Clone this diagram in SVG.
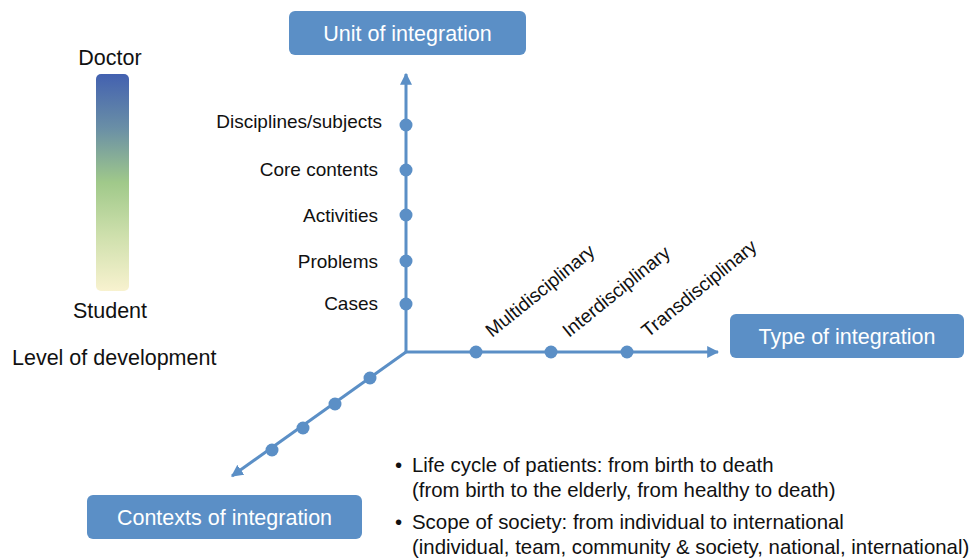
<svg xmlns="http://www.w3.org/2000/svg" width="975" height="559" viewBox="0 0 975 559">
  <style>
    text { font-family: "Liberation Sans", Arial, sans-serif; fill: #111; }
    .box { fill: #5b8fc6; }
    .boxtxt { fill: #ffffff; font-size: 21.5px; text-anchor: middle; }
    .lbl { font-size: 19px; text-anchor: end; }
    .tilt { font-size: 19px; }
    .axis { stroke: #5b8fc6; stroke-width: 3; fill: none; }
    .dot { fill: #5b8fc6; }
    .note { font-size: 20.4px; }
    .scale { font-size: 21.5px; }
  </style>
  <defs>
    <linearGradient id="devGrad" x1="0" y1="0" x2="0" y2="1">
      <stop offset="0" stop-color="#4361b0"/>
      <stop offset="0.25" stop-color="#6a8fa6"/>
      <stop offset="0.5" stop-color="#a0c98a"/>
      <stop offset="0.75" stop-color="#cfe0ad"/>
      <stop offset="1" stop-color="#f8f2cf"/>
    </linearGradient>
    <marker id="arr" viewBox="0 0 10 10" refX="9" refY="5" markerWidth="4" markerHeight="4" orient="auto" markerUnits="strokeWidth">
      <path d="M0,0 L10,5 L0,10 z" fill="#5b8fc6"/>
    </marker>
  </defs>

  <!-- development scale -->
  <g id="level-scale">
    <rect x="96" y="74" width="33" height="217" rx="5" fill="url(#devGrad)"/>
    <text class="scale" x="110" y="65" text-anchor="middle">Doctor</text>
    <text class="scale" x="110" y="318" text-anchor="middle">Student</text>
    <text class="scale" x="12" y="365">Level of development</text>
  </g>

  <!-- axes -->
  <g id="connectors">
    <line class="axis" x1="406" y1="352" x2="406" y2="74" marker-end="url(#arr)"/>
    <line class="axis" x1="406" y1="352" x2="718" y2="352" marker-end="url(#arr)"/>
    <line class="axis" x1="406" y1="352" x2="232" y2="476" marker-end="url(#arr)"/>
  </g>

  <g id="unit-axis-points">
    <circle class="dot" cx="406" cy="125" r="6.5"/>
    <circle class="dot" cx="406" cy="170" r="6.5"/>
    <circle class="dot" cx="406" cy="215" r="6.5"/>
    <circle class="dot" cx="406" cy="261" r="6.5"/>
    <circle class="dot" cx="406" cy="304" r="6.5"/>
    <text class="lbl" x="382" y="128">Disciplines/subjects</text>
    <text class="lbl" x="378" y="176">Core contents</text>
    <text class="lbl" x="378" y="222">Activities</text>
    <text class="lbl" x="378" y="268">Problems</text>
    <text class="lbl" x="378" y="310">Cases</text>
  </g>

  <g id="type-axis-points">
    <circle class="dot" cx="476" cy="352" r="6.5"/>
    <circle class="dot" cx="551" cy="352" r="6.5"/>
    <circle class="dot" cx="627" cy="352" r="6.5"/>
    <text class="tilt" transform="translate(492,338) rotate(-39)">Multidisciplinary</text>
    <text class="tilt" transform="translate(569,338) rotate(-39)">Interdisciplinary</text>
    <text class="tilt" transform="translate(648,338) rotate(-39)">Transdisciplinary</text>
  </g>

  <g id="context-axis-points">
    <circle class="dot" cx="370" cy="378" r="6.5"/>
    <circle class="dot" cx="335" cy="404" r="6.5"/>
    <circle class="dot" cx="303" cy="428" r="6.5"/>
    <circle class="dot" cx="272" cy="450" r="6.5"/>
  </g>

  <g id="unit-of-integration">
    <rect class="box" x="289" y="11" width="237" height="44" rx="6"/>
    <text class="boxtxt" x="407.5" y="41">Unit of integration</text>
  </g>

  <g id="type-of-integration">
    <rect class="box" x="730" y="314" width="234" height="44" rx="6"/>
    <text class="boxtxt" x="847" y="344">Type of integration</text>
  </g>

  <g id="contexts-of-integration">
    <rect class="box" x="87" y="495" width="275" height="44" rx="6"/>
    <text class="boxtxt" x="224.5" y="525">Contexts of integration</text>
  </g>

  <g id="context-notes">
    <text class="note" x="395" y="472">•</text>
    <text class="note" x="412" y="472">Life cycle of patients: from birth to death</text>
    <text class="note" x="412" y="497">(from birth to the elderly, from healthy to death)</text>
    <text class="note" x="395" y="529">•</text>
    <text class="note" x="412" y="529">Scope of society: from individual to international</text>
    <text class="note" x="412" y="554">(individual, team, community &amp; society, national, international)</text>
  </g>
</svg>
